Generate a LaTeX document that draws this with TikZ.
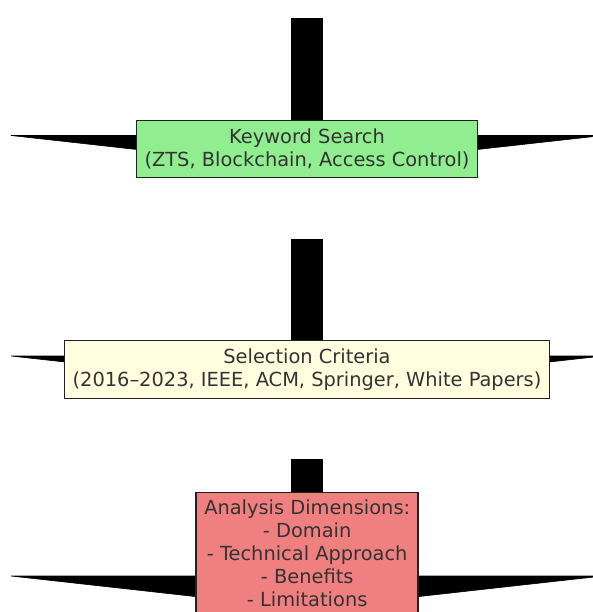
\documentclass[tikz,border=0pt]{standalone}
\usepackage{fontspec}
\setmainfont{DejaVu Sans}
\usetikzlibrary{backgrounds,calc}
\definecolor{boxgreen}{HTML}{90EE90}
\definecolor{boxyellow}{HTML}{FFFFE0}
\definecolor{boxcoral}{HTML}{F08080}
\definecolor{txt}{HTML}{333333}
\definecolor{edge}{HTML}{222222}
\begin{document}
\begin{tikzpicture}[x=1pt,y=-1pt,
  stagebox/.style={draw=edge, line width=1.8pt, text=txt, align=center, inner sep=0pt,
    font=\fontsize{19.4}{22.8}\selectfont},
  barshape/.style={fill=black},
  wedgeshape/.style={fill=black, draw=black, line width=0.6pt, line join=miter}]
\useasboundingbox (0,0) rectangle (593,612);
\clip (0,0) rectangle (593,612);

\node[stagebox, fill=boxgreen, minimum width=341pt, minimum height=57pt] (kw) at (307,149)
  {Keyword Search\\(ZTS, Blockchain, Access Control)};
\node[stagebox, fill=boxyellow, minimum width=485pt, minimum height=58pt] (sel) at (307,369.5)
  {Selection Criteria\\(2016--2023, IEEE, ACM, Springer, White Papers)};
\node[stagebox, fill=boxcoral, minimum width=222pt, minimum height=121.4pt] (ana) at (307.2,553.2)
  {Analysis Dimensions:\\- Domain\\- Technical Approach\\- Benefits\\- Limitations};

\coordinate (kwtop) at (290.7,18.5);
\coordinate (seltop) at (290.7,238.5);
\coordinate (anatop) at (290.7,458.5);

\begin{scope}[on background layer]
  \fill[barshape] (kwtop) rectangle ($(kw.north)+(15.7,0)$);
  \fill[barshape] (seltop) rectangle ($(sel.north)+(15.7,0)$);
  \fill[barshape] (anatop) rectangle ($(ana.north)+(15.5,0)$);
  \filldraw[wedgeshape] (11,135.5) -- (603,135.5) -- (307,168.5) -- cycle;
  \filldraw[wedgeshape] (11,356) -- (603,356) -- (307,389) -- cycle;
  \filldraw[wedgeshape] (11,576) -- (603,576) -- (307,609) -- cycle;
\end{scope}
\end{tikzpicture}
\end{document}
